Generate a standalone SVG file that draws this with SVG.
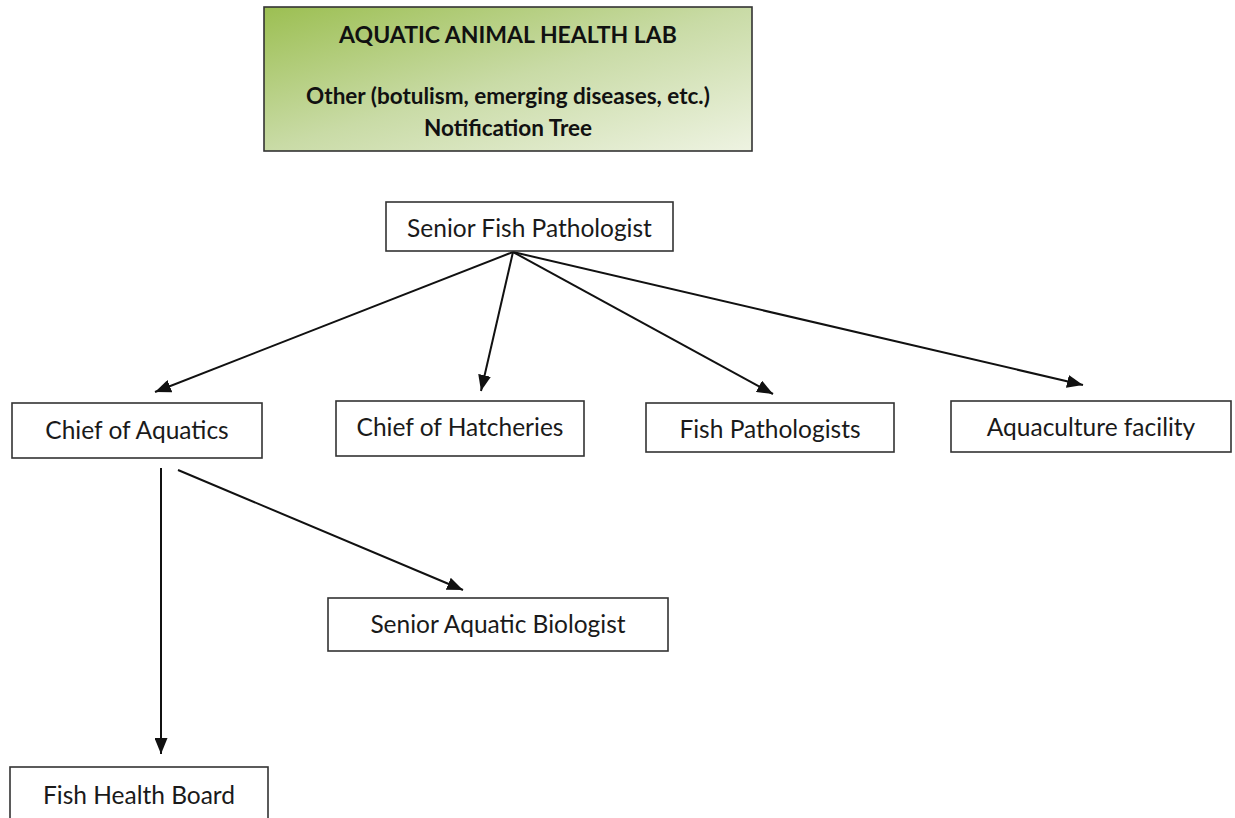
<svg xmlns="http://www.w3.org/2000/svg" width="1235" height="818" viewBox="0 0 1235 818">
  <style>
    .box { fill: #ffffff; stroke: #333333; stroke-width: 1.6; }
    .lbl { font-family: Lato, "Open Sans", "Liberation Sans", sans-serif; font-size: 24.5px; fill: #1a1a1a; text-anchor: middle; }
    .ttl { font-family: Lato, "Open Sans", "Liberation Sans", sans-serif; font-weight: bold; fill: #111111; text-anchor: middle; }
    .edge { stroke: #111111; stroke-width: 2; fill: none; marker-end: url(#arrow); }
  </style>
  <defs>
    <linearGradient id="headerFill" x1="0" y1="0" x2="1" y2="1">
      <stop offset="0" stop-color="#9cbf52"/>
      <stop offset="0.5" stop-color="#c9dba6"/>
      <stop offset="1" stop-color="#eef3e2"/>
    </linearGradient>
    <marker id="arrow" viewBox="0 0 16 13" refX="16" refY="6.5" markerWidth="16" markerHeight="13" markerUnits="userSpaceOnUse" orient="auto">
      <path d="M0,0 L16,6.5 L0,13 Z" fill="#111111"/>
    </marker>
  </defs>

  <!-- header panel -->
  <g id="header">
    <rect x="264" y="7" width="488" height="144" fill="url(#headerFill)" stroke="#333333" stroke-width="1.6"/>
    <text class="ttl" x="508" y="43" font-size="23">AQUATIC ANIMAL HEALTH LAB</text>
    <text class="ttl" x="508" y="104" font-size="22.5">Other (botulism, emerging diseases, etc.)</text>
    <text class="ttl" x="508" y="136" font-size="22.5">Notification Tree</text>
  </g>

  <!-- connectors -->
  <g id="connectors">
    <line class="edge" x1="513" y1="252" x2="155" y2="392"/>
    <line class="edge" x1="513" y1="252" x2="481" y2="391"/>
    <line class="edge" x1="513" y1="252" x2="773" y2="394"/>
    <line class="edge" x1="513" y1="252" x2="1083" y2="385"/>
    <line class="edge" x1="161" y1="468" x2="161" y2="754"/>
    <line class="edge" x1="178" y1="470" x2="463" y2="590"/>
  </g>

  <!-- nodes -->
  <g id="senior-fish-pathologist">
    <rect class="box" x="386" y="202" width="287" height="49"/>
    <text class="lbl" x="529.5" y="237">Senior Fish Pathologist</text>
  </g>
  <g id="chief-of-aquatics">
    <rect class="box" x="12" y="403" width="250" height="55"/>
    <text class="lbl" x="137" y="439">Chief of Aquatics</text>
  </g>
  <g id="chief-of-hatcheries">
    <rect class="box" x="336" y="401" width="248" height="55"/>
    <text class="lbl" x="460" y="436">Chief of Hatcheries</text>
  </g>
  <g id="fish-pathologists">
    <rect class="box" x="646" y="403" width="248" height="49"/>
    <text class="lbl" x="770" y="438">Fish Pathologists</text>
  </g>
  <g id="aquaculture-facility">
    <rect class="box" x="951" y="401" width="280" height="51"/>
    <text class="lbl" x="1091" y="436">Aquaculture facility</text>
  </g>
  <g id="senior-aquatic-biologist">
    <rect class="box" x="328" y="598" width="340" height="53"/>
    <text class="lbl" x="498" y="633">Senior Aquatic Biologist</text>
  </g>
  <g id="fish-health-board">
    <rect class="box" x="10" y="767" width="258" height="55"/>
    <text class="lbl" x="139" y="804">Fish Health Board</text>
  </g>
</svg>
